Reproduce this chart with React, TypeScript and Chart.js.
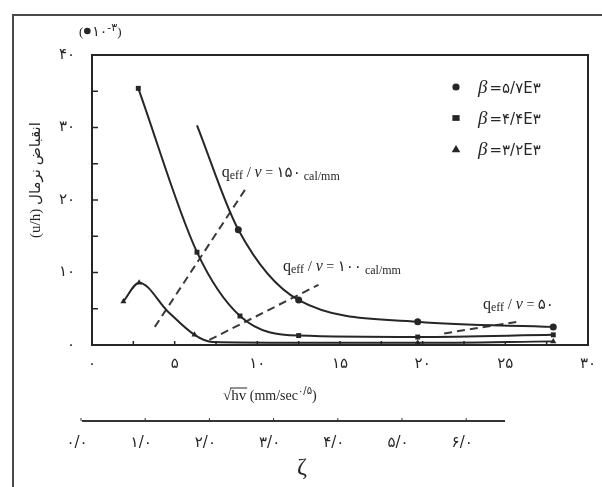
import React, { useEffect, useRef } from 'react';
import { Chart, registerables } from 'chart.js';

Chart.register(...registerables);

// ---------- data ----------
const xTickValues = [0, 5, 10, 15, 20, 25, 30];
const xTickLabels = ['۰', '۵', '۱۰', '۱۵', '۲۰', '۲۵', '۳۰'];
const yTickValues = [0, 10, 20, 30, 40];
const yTickLabels = ['۰', '۱۰', '۲۰', '۳۰', '۴۰'];

// curve q_eff/ν = 150
const q150X = [6.35, 8.85, 12.5, 19.7, 27.9];
const q150Y = [30.3, 15.9, 6.2, 3.2, 2.5];
const q150Marked = [0, 1, 1, 1, 1];

// curve q_eff/ν = 100
const q100X = [2.8, 6.35, 8.95, 12.5, 19.7, 27.9];
const q100Y = [35.4, 12.8, 4.0, 1.3, 1.1, 1.4];
const q100Marked = [1, 1, 1, 1, 1, 1];

// curve q_eff/ν = 50
const q50X = [1.9, 2.85, 4.6, 6.2, 7.3, 12.5, 19.7, 27.9];
const q50Y = [6.0, 8.6, 4.6, 1.4, 0.4, 0.3, 0.3, 0.5];
const q50Marked = [1, 1, 0, 1, 0, 0, 1, 1];

// dashed loci
const d150X = [3.8, 9.25];
const d150Y = [2.5, 21.4];
const d100X = [7.1, 13.7];
const d100Y = [0.7, 8.3];
const d50X = [21.3, 25.7];
const d50Y = [1.6, 3.2];

// legend
const legendStyles = ['circle', 'rect', 'triangle'];
const legendValues = ['=۵/۷E۳', '=۴/۴E۳', '=۳/۲E۳'];

// annotations (data coords of text start)
const annoText = ['۱۵۰', '۱۰۰', '۵۰'];
const annoUnit = [' cal/mm', ' cal/mm', ''];
const annoX = [7.85, 11.55, 23.65];
const annoY = [23.8, 10.9, 5.6];

// secondary ζ axis
const zetaValues = [0, 1, 2, 3, 4, 5, 6];
const zetaLabels = ['۰/۰', '۱/۰', '۲/۰', '۳/۰', '۴/۰', '۵/۰', '۶/۰'];

const INK = '#262626';
const SERIF = "'Liberation Serif', 'DejaVu Serif', 'DejaVu Sans', serif";
const DIG = "'DejaVu Sans', 'Liberation Serif', serif";

const pts = (xs: number[], ys: number[]) => xs.map((x, i) => ({ x, y: ys[i] }));

type Run = { t: string; font: string; dy?: number };
function drawRuns(ctx: CanvasRenderingContext2D, x: number, y: number, runs: Run[]) {
  let cx = x;
  ctx.textBaseline = 'alphabetic';
  ctx.textAlign = 'left';
  for (const r of runs) {
    ctx.font = r.font;
    ctx.fillText(r.t, cx, y + (r.dy || 0));
    cx += ctx.measureText(r.t).width;
  }
  return cx;
}

function drawMarker(ctx: CanvasRenderingContext2D, style: string, x: number, y: number, r: number) {
  ctx.beginPath();
  if (style === 'circle') {
    ctx.arc(x, y, r, 0, Math.PI * 2);
  } else if (style === 'rect') {
    ctx.rect(x - r, y - r * 0.8, r * 2, r * 1.6);
  } else {
    ctx.moveTo(x, y - r * 1.1);
    ctx.lineTo(x + r * 1.2, y + r * 0.9);
    ctx.lineTo(x - r * 1.2, y + r * 0.9);
    ctx.closePath();
  }
  ctx.fill();
}

const decorPlugin = {
  id: 'decor',
  afterDraw(chart: any) {
    const ctx: CanvasRenderingContext2D = chart.ctx;
    const { left, right, top, bottom } = chart.chartArea;
    const xs = chart.scales.x;
    const ys = chart.scales.y;
    ctx.save();

    // outer page frame
    ctx.strokeStyle = '#4a4a4a';
    ctx.lineWidth = 2;
    ctx.beginPath();
    ctx.moveTo(13, 487);
    ctx.lineTo(13, 15);
    ctx.lineTo(602, 15);
    ctx.stroke();

    // plot box
    ctx.strokeStyle = INK;
    ctx.lineWidth = 2;
    ctx.strokeRect(left, top, right - left, bottom - top);

    // inward ticks
    ctx.lineWidth = 1.5;
    ctx.beginPath();
    for (let v = 5; v < 40; v += 5) {
      const py = ys.getPixelForValue(v);
      ctx.moveTo(left, py);
      ctx.lineTo(left + 6, py);
    }
    for (let v = 2.5; v < 30; v += 2.5) {
      const px = xs.getPixelForValue(v);
      ctx.moveTo(px, bottom);
      ctx.lineTo(px, bottom - 4);
    }
    ctx.stroke();

    ctx.fillStyle = INK;

    // y axis title (rotated)
    ctx.save();
    ctx.translate(36, 180);
    ctx.rotate(-Math.PI / 2);
    ctx.font = `15px ${SERIF}`;
    ctx.textAlign = 'center';
    ctx.textBaseline = 'middle';
    ctx.fillText('(u/h) انقباض نرمال', 0, 0);
    ctx.restore();

    // unit label (●۱۰⁻۳)
    const ux = drawRuns(ctx, 79, 36, [{ t: '(', font: `13px ${SERIF}` }]);
    ctx.beginPath();
    ctx.arc(ux + 4, 31, 3.3, 0, Math.PI * 2);
    ctx.fill();
    drawRuns(ctx, ux + 9, 36, [
      { t: '۱۰', font: `14px ${DIG}` },
      { t: '-۳', font: `11px ${DIG}`, dy: -5 },
      { t: ')', font: `13px ${SERIF}` },
    ]);

    // annotations
    for (let i = 0; i < annoText.length; i++) {
      const ax = xs.getPixelForValue(annoX[i]);
      const ay = ys.getPixelForValue(annoY[i]);
      drawRuns(ctx, ax, ay + 5, [
        { t: 'q', font: `16px ${SERIF}` },
        { t: 'eff', font: `12px ${SERIF}`, dy: 2 },
        { t: ' / ', font: `15px ${SERIF}` },
        { t: 'ν', font: `italic 16px ${SERIF}` },
        { t: ' = ', font: `14px ${SERIF}` },
        { t: annoText[i], font: `15px ${DIG}` },
        { t: annoUnit[i], font: `12px ${SERIF}`, dy: 3 },
      ]);
    }

    // legend
    for (let i = 0; i < legendValues.length; i++) {
      const ly = top + 32 + i * 31;
      const lx = right - 132;
      drawMarker(ctx, legendStyles[i], lx, ly, 3.6);
      drawRuns(ctx, lx + 22, ly + 6, [
        { t: 'β', font: `italic 19px ${SERIF}` },
        { t: ' ', font: `8px ${SERIF}` },
        { t: legendValues[i], font: `15px ${DIG}` },
      ]);
    }

    // x axis title √hv (mm/sec^۰/۵)
    const tx = 223;
    const ty = 400;
    ctx.font = `15px ${SERIF}`;
    const sq = ctx.measureText('√').width;
    const hv = ctx.measureText('hv').width;
    const ex = drawRuns(ctx, tx, ty, [
      { t: '√', font: `15px ${SERIF}` },
      { t: 'hv', font: `15px ${SERIF}` },
    ]);
    ctx.lineWidth = 1;
    ctx.beginPath();
    ctx.moveTo(tx + sq - 1, ty - 12);
    ctx.lineTo(tx + sq + hv + 1, ty - 12);
    ctx.stroke();
    drawRuns(ctx, ex, ty, [
      { t: ' (mm/sec', font: `14px ${SERIF}` },
      { t: '۰/۵', font: `10px ${DIG}`, dy: -6 },
      { t: ')', font: `14px ${SERIF}` },
    ]);

    // secondary ζ axis
    const z0 = 77;
    const zs = 64.2;
    ctx.strokeStyle = '#333';
    ctx.lineWidth = 2;
    ctx.beginPath();
    ctx.moveTo(82, 421);
    ctx.lineTo(505, 421);
    ctx.stroke();
    ctx.lineWidth = 1;
    ctx.beginPath();
    for (const v of zetaValues) {
      const px = z0 + zs * v + 4;
      ctx.moveTo(px, 421);
      ctx.lineTo(px, 418);
    }
    ctx.stroke();
    ctx.font = `15px ${DIG}`;
    ctx.textAlign = 'center';
    ctx.textBaseline = 'middle';
    zetaValues.forEach((v, i) => {
      ctx.fillText(zetaLabels[i], z0 + zs * v, 443);
    });
    ctx.font = `24px ${SERIF}`;
    ctx.fillText('ζ', 302, 468);

    ctx.restore();
  },
};

export default function App() {
  const ref = useRef<HTMLCanvasElement>(null);

  useEffect(() => {
    if (!ref.current) return;
    const curve = (xs: number[], ys: number[], marked: number[], style: string) => ({
      data: pts(xs, ys),
      borderColor: INK,
      borderWidth: 2,
      cubicInterpolationMode: 'monotone' as const,
      pointStyle: style,
      pointRadius: marked.map((m) => (m ? 3.5 : 0)),
      pointBackgroundColor: INK,
      pointBorderColor: INK,
      pointBorderWidth: 0,
      fill: false,
    });
    const dashed = (xs: number[], ys: number[]) => ({
      data: pts(xs, ys),
      borderColor: '#3a3a3a',
      borderWidth: 2,
      borderDash: [8, 5],
      pointRadius: 0,
      fill: false,
    });
    const tickFont = { family: DIG, size: 15 };
    const chart = new Chart(ref.current, {
      type: 'line',
      data: {
        datasets: [
          curve(q150X, q150Y, q150Marked, 'circle'),
          curve(q100X, q100Y, q100Marked, 'rect'),
          curve(q50X, q50Y, q50Marked, 'triangle'),
          dashed(d150X, d150Y),
          dashed(d100X, d100Y),
          dashed(d50X, d50Y),
        ] as any,
      },
      options: {
        animation: false,
        responsive: false,
        maintainAspectRatio: false,
        layout: { padding: { left: 0, top: 55, right: 14, bottom: 0 } },
        plugins: { legend: { display: false }, tooltip: { enabled: false } },
        scales: {
          x: {
            type: 'linear',
            min: 0,
            max: 30,
            afterFit: (s: any) => {
              s.height = 142;
              s.paddingRight = 0;
              s.paddingLeft = 0;
            },
            grid: { display: false, drawTicks: false },
            border: { display: false },
            ticks: {
              stepSize: 5,
              autoSkip: false,
              maxRotation: 0,
              padding: 10,
              color: INK,
              font: tickFont,
              callback: (v: any) => {
                const i = xTickValues.indexOf(Number(v));
                return i >= 0 ? xTickLabels[i] : '';
              },
            },
          },
          y: {
            type: 'linear',
            min: 0,
            max: 40,
            afterFit: (s: any) => {
              s.width = 92;
              s.paddingTop = 0;
              s.paddingBottom = 0;
            },
            grid: { display: false, drawTicks: false },
            border: { display: false },
            ticks: {
              stepSize: 10,
              autoSkip: false,
              padding: 17,
              color: INK,
              font: tickFont,
              callback: (v: any) => {
                const i = yTickValues.indexOf(Number(v));
                return i >= 0 ? yTickLabels[i] : '';
              },
            },
          },
        },
      } as any,
      plugins: [decorPlugin],
    });
    return () => chart.destroy();
  }, []);

  return (
    <div style={{ position: 'absolute', left: 0, top: 0, width: 602, height: 487, background: '#fff' }}>
      <canvas ref={ref} width={602} height={487} />
    </div>
  );
}
